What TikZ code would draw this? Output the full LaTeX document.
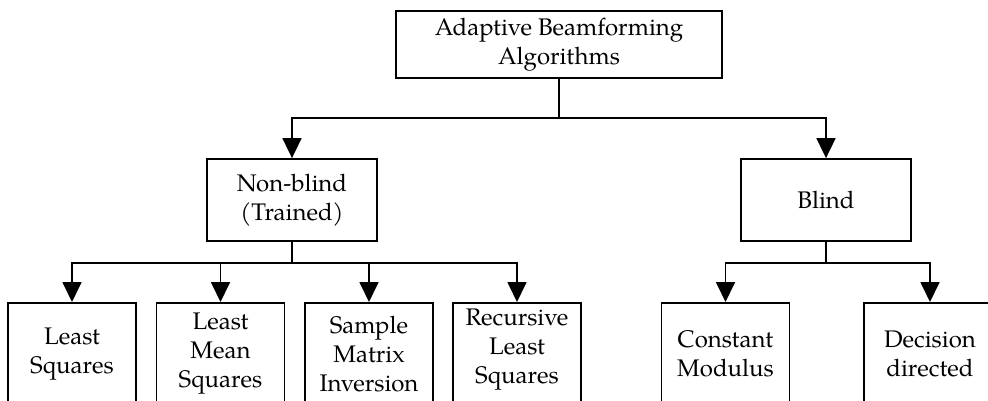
\documentclass[tikz,border=0pt]{standalone}
\usepackage{fontspec}
\setmainfont{TeX Gyre Pagella}
\usetikzlibrary{arrows.meta,calc}
\begin{document}
\begin{tikzpicture}[x=1pt,y=-1pt, line width=1.8pt,
  txt/.style={align=center, font=\fontsize{24}{29}\selectfont},
  box/.style={draw, rectangle, inner sep=0pt, txt},
  leaf/.style={draw, rectangle, inner sep=0pt, minimum width=128pt, minimum height=110pt, anchor=north},
  arr/.style={-{Triangle[width=19pt 0 1,length=20pt 0 1]}}]
\useasboundingbox (0,0) rectangle (988,401);
\clip (0,0) rectangle (988,401);
\node[box, minimum width=326pt, minimum height=67pt] (top) at (559,44.5) {Adaptive Beamforming\\Algorithms};
\node[box, minimum width=170pt, minimum height=82pt] (nb) at (292,200) {Non-blind\\(Trained)};
\node[box, minimum width=170pt, minimum height=82pt] (bl) at (826,200) {Blind};
\node[leaf, label={[txt, yshift=4pt]center:Least\\Squares}] (ls) at (72,302) {};
\node[leaf, label={[txt, yshift=4pt]center:Least\\Mean\\Squares}] (lms) at (220.5,302) {};
\node[leaf, label={[txt, yshift=4pt]center:Sample\\Matrix\\Inversion}] (smi) at (369,302) {};
\node[leaf, label={[txt, yshift=8.5pt]center:Recursive\\Least\\Squares}] (rls) at (517,302) {};
\node[leaf, label={[txt, yshift=4pt]center:Constant\\Modulus}] (cm) at (725.5,302) {};
\node[leaf, minimum width=132pt, label={[txt, yshift=4pt]center:Decision\\directed}] (dd) at (930,302) {};
\coordinate (tj) at ($(top.south)+(0,39)$);
\draw (top.south) -- (tj);
\draw[arr] (tj) -| (nb.north);
\draw[arr] (tj) -| (bl.north);
\coordinate (nj) at ($(nb.south)+(0,21)$);
\draw (nb.south) -- (nj);
\draw[arr] (nj) -| (ls.north);
\draw[arr] (nj) -| (lms.north);
\draw[arr] (nj) -| (smi.north);
\draw[arr] (nj) -| (rls.north);
\coordinate (bj) at ($(bl.south)+(0,21)$);
\draw (bl.south) -- (bj);
\draw[arr] (bj) -| (cm.north);
\draw[arr] (bj) -| (dd.north);
\end{tikzpicture}
\end{document}
